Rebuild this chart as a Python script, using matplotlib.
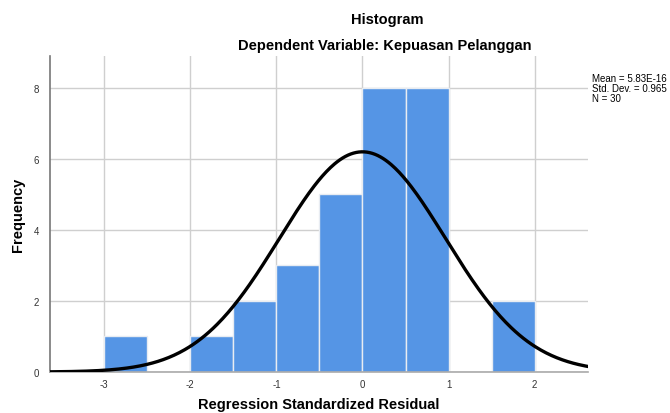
import numpy as np
import matplotlib
matplotlib.use("Agg")
import matplotlib.pyplot as plt

# histogram bins (width 0.5) and counts
bin_left = [-3.0, -2.0, -1.5, -1.0, -0.5, 0.0, 0.5, 1.5]
counts = [1, 1, 2, 3, 5, 8, 8, 2]
bin_width = 0.5

# fitted normal curve stats shown in the legend box
mean = 5.83e-16
std_dev = 0.965
n = 30

x_ticks = [-3, -2, -1, 0, 1, 2]
y_ticks = [0, 2, 4, 6, 8]

plt.rcParams['font.family'] = ['Liberation Sans', 'DejaVu Sans']

fig = plt.figure(figsize=(6.7, 4.14), dpi=100)
ax = fig.add_axes([50 / 670, 1 - 373 / 414, 538 / 670, 316 / 414])

ax.bar(bin_left, counts, width=bin_width, align='edge',
       color='#5595e5', edgecolor='#e8ecf2', linewidth=1.0, zorder=2)

xs = np.linspace(-3.63, 2.62, 400)
pdf = n * bin_width / (std_dev * np.sqrt(2 * np.pi)) * np.exp(-0.5 * ((xs - mean) / std_dev) ** 2)
ax.plot(xs, pdf, color='black', linewidth=2.4, zorder=3)

ax.set_xlim(-3.63, 2.62)
ax.set_ylim(0, 8.9)
ax.set_xticks(x_ticks)
ax.set_xticklabels([str(t) for t in x_ticks])
ax.set_yticks(y_ticks)
ax.grid(True, color='#cfcfcf', linewidth=1.0, zorder=0)
ax.set_axisbelow(True)
ax.tick_params(axis='x', length=0, labelsize=7, colors='#333333', pad=5)
ax.tick_params(axis='y', length=0, labelsize=7, colors='#333333', pad=8)

for side in ['top', 'right']:
    ax.spines[side].set_visible(False)
ax.spines['left'].set_color('#777777')
ax.spines['left'].set_linewidth(1.2)
ax.spines['bottom'].set_color('#aaaaaa')
ax.spines['bottom'].set_linewidth(1.2)

# axis titles placed in figure coords (the chart is tight at the bottom)
fig.text(18 / 670, 1 - 215 / 414, 'Frequency', rotation=90, ha='center', va='center',
         fontsize=10.5, fontweight='bold')
fig.text(319 / 670, 1 - 405 / 414, 'Regression Standardized Residual', ha='center', va='center',
         fontsize=10.5, fontweight='bold')

fig.text(387 / 670, 1 - 20 / 414, 'Histogram', ha='center', va='center',
         fontsize=10.5, fontweight='bold')
fig.text(385 / 670, 1 - 46 / 414, 'Dependent Variable: Kepuasan Pelanggan',
         ha='center', va='center', fontsize=10.5, fontweight='bold')

fig.text(592 / 670, 1 - 89 / 414,
         'Mean = 5.83E-16\nStd. Dev. = 0.965\nN = 30',
         ha='left', va='center', fontsize=7.0, linespacing=1.0)

fig.savefig('out.png', dpi=100)
